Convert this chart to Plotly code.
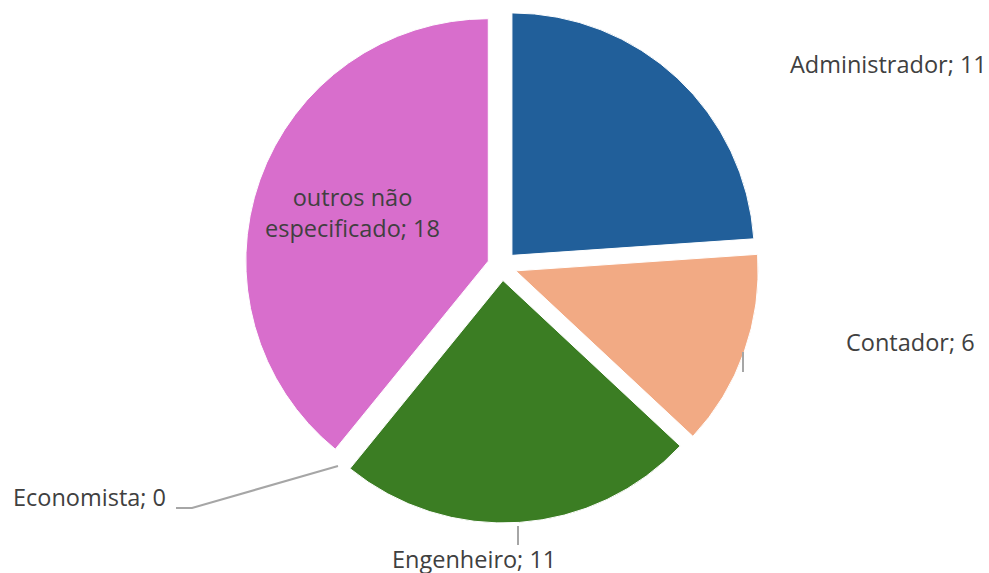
import plotly.graph_objects as go

# Profession breakdown
categorias = ["Administrador", "Contador", "Engenheiro", "Economista", "outros não especificado"]
valores = [11, 6, 11, 0, 18]
cores = ["#215F9A", "#F2AA84", "#3B7D23", "#4EA72E", "#D86ECC"]
afastamento = [0.06, 0.06, 0.06, 0.06, 0.06]

W, H = 989, 573


def px(x):
    return x / W


def py(y):
    return 1 - y / H


fig = go.Figure(
    go.Pie(
        labels=categorias,
        values=valores,
        sort=False,
        direction="clockwise",
        rotation=0,
        pull=afastamento,
        marker=dict(colors=cores, line=dict(color="white", width=1)),
        textinfo="none",
        hoverinfo="label+value",
        showlegend=False,
        domain=dict(x=[px(245), px(759)], y=[py(523), py(9)]),
    )
)

texto = dict(family="Open Sans, Roboto, sans-serif", size=23.5, color="#404040")


def rotulo(i):
    return f"{categorias[i]}; {valores[i]}"


anots = [
    dict(x=px(788), y=py(64), text=rotulo(0), xanchor="left"),
    dict(x=px(844), y=py(342), text=rotulo(1), xanchor="left"),
    dict(x=px(474), y=py(559), text=rotulo(2), xanchor="center"),
    dict(x=px(168), y=py(497), text=rotulo(3), xanchor="right"),
    dict(x=px(352), y=py(212), text="outros não<br>especificado; " + str(valores[4]), xanchor="center"),
]
for a in anots:
    a.update(xref="paper", yref="paper", yanchor="middle", showarrow=False, font=texto)

linha = dict(color="#A6A6A6", width=2)
formas = [
    dict(type="path", path=f"M {px(176)},{py(508)} L {px(192)},{py(508)} L {px(338)},{py(466)}",
         xref="paper", yref="paper", line=linha),
    dict(type="line", x0=px(743), x1=px(743), y0=py(352), y1=py(372),
         xref="paper", yref="paper", line=linha),
    dict(type="line", x0=px(518), x1=px(518), y0=py(526), y1=py(545),
         xref="paper", yref="paper", line=linha),
]

fig.update_layout(
    width=W,
    height=H,
    margin=dict(l=0, r=0, t=0, b=0),
    paper_bgcolor="white",
    plot_bgcolor="white",
    annotations=anots,
    shapes=formas,
)

fig.write_html("out.html")
